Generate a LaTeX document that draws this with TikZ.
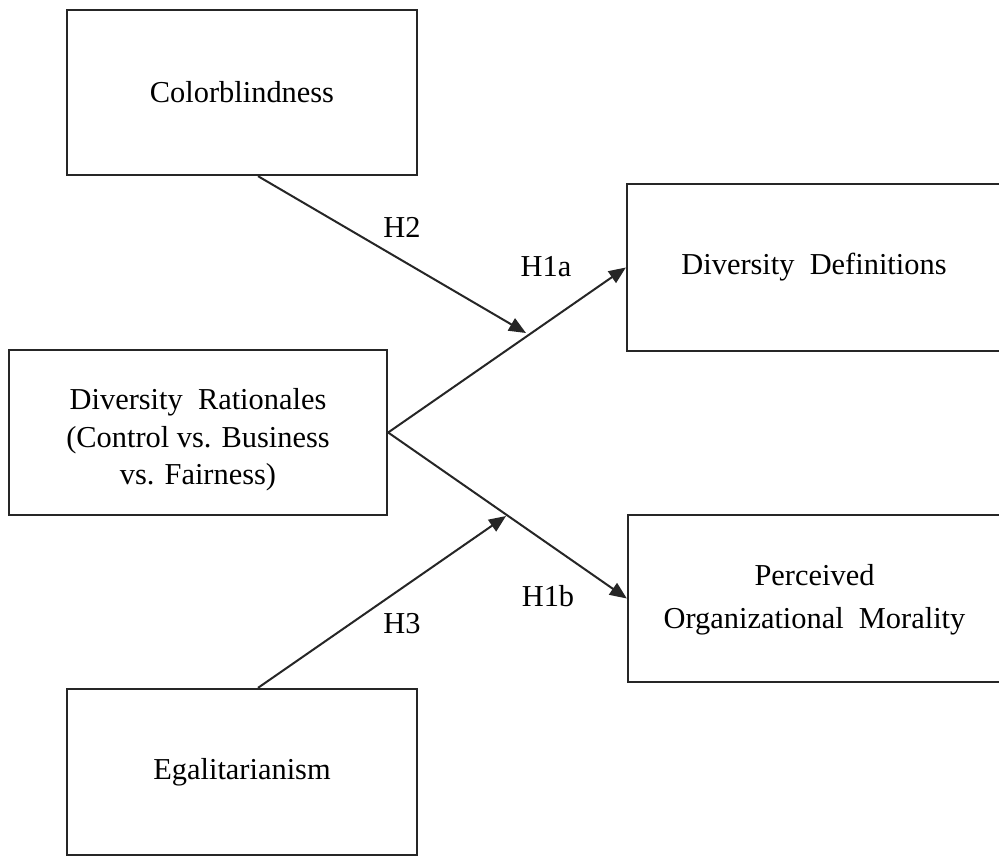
\documentclass[tikz,border=0pt]{standalone}
\usepackage{fontspec}
\setmainfont{Liberation Serif}
\usetikzlibrary{arrows.meta}
\newcommand\wsp{\hspace{0.5em}}
\begin{document}
\begin{tikzpicture}[x=0.5pt,y=-0.5pt,
  box/.style={draw=black!85,line width=1.15pt,inner sep=0pt,align=center,
    font=\fontsize{15.2}{18.75}\selectfont},
  hlabel/.style={inner sep=0pt,font=\fontsize{15.2}{18}\selectfont},
  path/.style={draw=black!85,line width=1pt,-{Triangle[length=8.5pt,width=7pt]}}]
\useasboundingbox (0,0) rectangle (999,856);
\clip (0,0) rectangle (999,856);
% variable boxes
\node[box,minimum width=175pt,minimum height=82.5pt] (cb) at (242,92.5) {Colorblindness};
\node[box,minimum width=175pt,minimum height=83pt] (eg) at (242,772) {Egalitarianism};
\node[box,minimum width=189pt,minimum height=82.5pt] (dr) at (198,432.5) {};
\node[box,draw=none,anchor=center] (drtext) at (198,440)
  {Diversity\wsp Rationales\\(Control vs. Business\\vs. Fairness)};
\node[box,minimum width=187pt,minimum height=83.5pt] (dd) at (814,267.5)
  {Diversity\wsp Definitions};
\node[box,minimum width=186.5pt,minimum height=83.5pt] (pom) at (814.5,598.5) {};
\node[box,draw=none,font=\fontsize{15.2}{21.5}\selectfont] (pomtext) at (814.5,600)
  {Perceived\\Organizational\wsp Morality};
% moderator targets on the main paths
\coordinate (h2tip) at (526,333);
\coordinate (h3tip) at (506,516);
% paths
\draw[path] (dr.east) -- (dd.west);
\draw[path] (dr.east) -- (pom.west);
\draw[path] ([xshift=8pt]cb.south) -- (h2tip);
\draw[path] ([xshift=8pt]eg.north) -- (h3tip);
% hypothesis labels
\node[hlabel] (lh2) at (402,227) {H2};
\node[hlabel] (lh1a) at (546,267) {H1a};
\node[hlabel] (lh1b) at (548,596) {H1b};
\node[hlabel] (lh3) at (402,624) {H3};
\end{tikzpicture}
\end{document}
